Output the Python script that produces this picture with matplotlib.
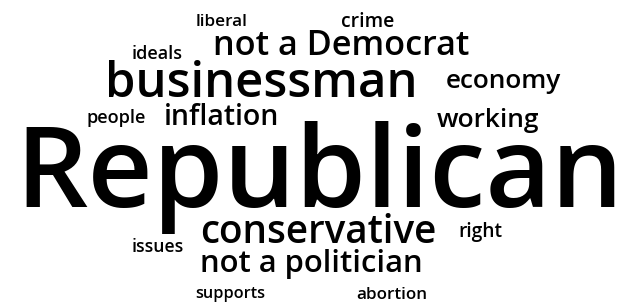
import matplotlib
matplotlib.use("Agg")
import matplotlib.pyplot as plt

# --- data: words of the cloud and their relative weights ---
words = ["Republican", "businessman", "conservative", "not a Democrat",
         "not a politician", "inflation", "economy", "working",
         "liberal", "crime", "ideals", "people", "right", "issues",
         "supports", "abortion"]
weights = [100, 42, 31, 30, 29, 21, 20, 20, 14, 14, 14, 14, 14, 14, 14, 14]

# --- layout (pixel box of each word: left, right, baseline) ---
left = [15, 105, 200, 213, 200, 164, 446, 437, 196, 341, 132, 87, 458, 132, 195, 356]
right = [624, 418, 437, 470, 423, 280, 562, 540, 248, 394, 183, 147, 502, 184, 265, 427]
baseline = [207, 97, 243, 55, 272, 125, 88, 127, 26, 27, 59, 123, 237, 252, 298, 299]

W, H = 644, 303
fig = plt.figure(figsize=(W / 100, H / 100), dpi=100)
fig.patch.set_facecolor("white")
ax = fig.add_axes([0, 0, 1, 1])
ax.set_xlim(0, W)
ax.set_ylim(H, 0)
ax.axis("off")

renderer = fig.canvas.get_renderer()
for word, w, l, r, b in zip(words, weights, left, right, baseline):
    t = ax.text(l, b, word, fontsize=50, family="Open Sans", weight="semibold",
                color="#000000", ha="left", va="baseline", zorder=w)
    bb = t.get_window_extent(renderer)
    t.set_fontsize(50 * (r - l) / bb.width)

fig.savefig("out.png", dpi=100, facecolor="white")
